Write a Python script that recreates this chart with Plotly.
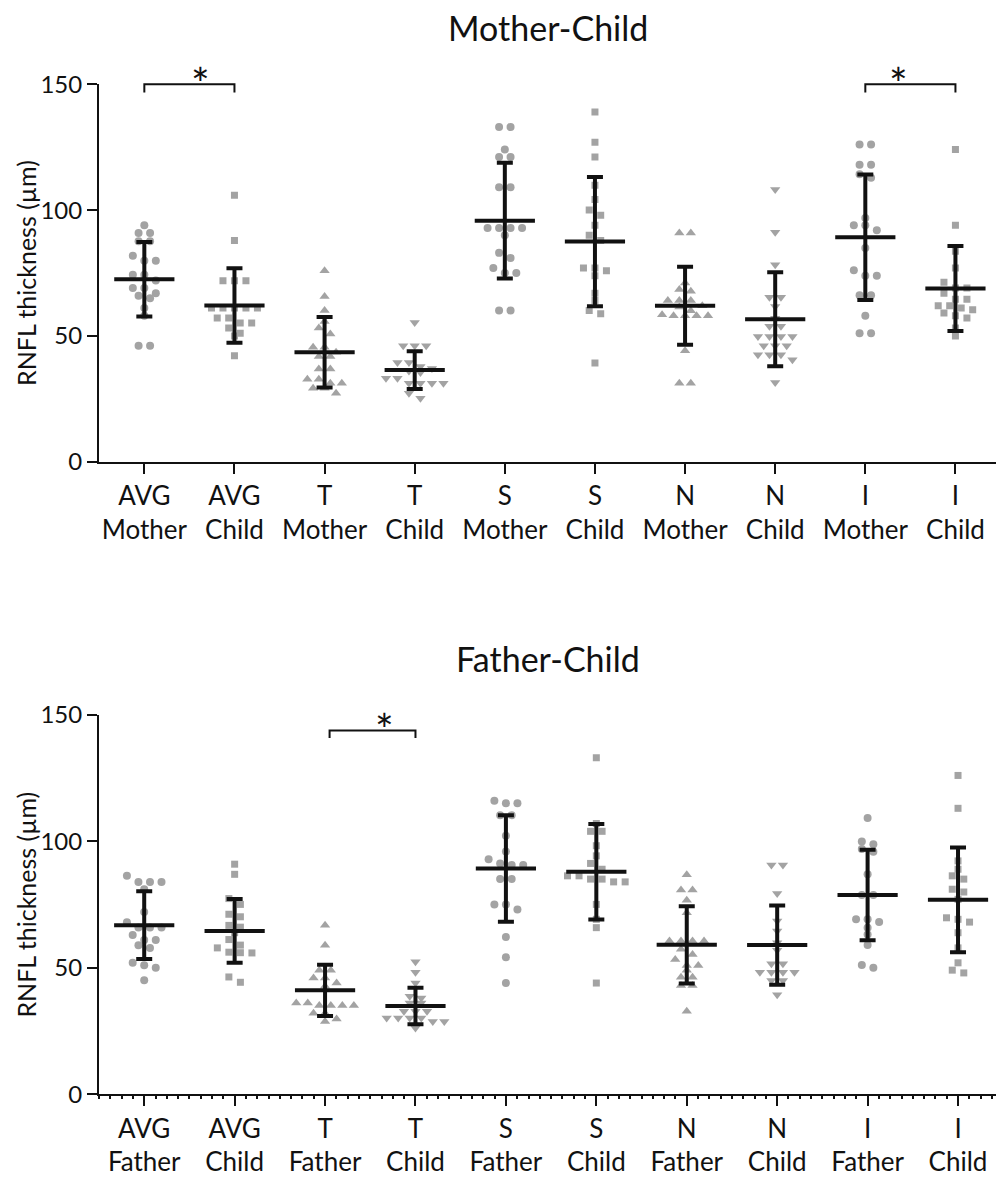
import plotly.graph_objects as go
import numpy as np

# ---------------- data ----------------
labels_mc = ["AVG<br>Mother", "AVG<br>Child", "T<br>Mother", "T<br>Child", "S<br>Mother",
             "S<br>Child", "N<br>Mother", "N<br>Child", "I<br>Mother", "I<br>Child"]
labels_fc = ["AVG<br>Father", "AVG<br>Child", "T<br>Father", "T<br>Child", "S<br>Father",
             "S<br>Child", "N<br>Father", "N<br>Child", "I<br>Father", "I<br>Child"]

# Mother-Child panel
avg_mother = [94.0, 90.9, 90.9, 87.6, 87.6, 81.9, 79.9, 79.9, 74.3, 74.3, 72.0, 69.0, 69.0, 67.0, 66.0, 65.0, 61.1, 58.0, 46.1, 46.1]
avg_child_m = [105.9, 87.9, 71.9, 71.9, 71.9, 61.1, 61.1, 61.1, 61.1, 61.1, 57.1, 57.1, 55.1, 55.1, 53.1, 51.1, 50.0, 42.1]
t_mother = [75.9, 65.7, 60.1, 55.7, 53.1, 50.8, 45.5, 45.5, 43.5, 41.8, 41.8, 36.8, 36.8, 32.8, 32.8, 31.2, 31.2, 29.2, 29.2, 27.2]
t_child_m = [55.3, 46.1, 46.1, 46.1, 39.4, 39.4, 37.8, 37.0, 36.0, 35.5, 33.2, 33.2, 31.2, 31.2, 31.2, 31.2, 27.2, 25.2]
s_mother = [133.0, 133.0, 124.1, 121.1, 121.1, 109.1, 109.1, 92.9, 92.9, 92.9, 92.9, 90.0, 83.0, 81.0, 77.0, 75.0, 75.0, 60.1, 60.1]
s_child_m = [139.0, 127.0, 121.1, 109.9, 104.2, 100.0, 98.0, 94.0, 90.0, 87.9, 77.0, 77.0, 75.9, 73.9, 67.0, 64.1, 60.1, 58.8, 39.2]
n_mother = [90.9, 90.9, 71.0, 68.4, 67.7, 64.1, 64.1, 64.1, 62.0, 61.5, 60.0, 58.4, 58.0, 58.0, 58.0, 58.0, 44.1, 31.2, 31.2]
n_child_m = [108.2, 91.2, 78.3, 65.4, 65.4, 61.7, 57.0, 53.8, 53.8, 49.8, 49.8, 49.8, 49.8, 46.1, 46.1, 46.1, 42.5, 42.5, 42.5, 40.5, 31.5]
i_mother = [126.1, 126.1, 118.0, 118.0, 114.2, 112.9, 96.9, 94.0, 94.0, 92.0, 84.9, 76.1, 73.9, 73.9, 66.2, 66.2, 58.0, 51.1, 51.1]
i_child_m = [124.1, 94.0, 83.6, 77.0, 71.3, 69.0, 69.0, 67.0, 64.6, 64.6, 62.0, 62.0, 61.1, 60.4, 59.1, 58.0, 57.1, 53.1, 50.0]
means_mc = [72.5, 62.1, 43.5, 36.4, 95.8, 87.5, 62.0, 56.6, 89.2, 68.8]
sds_mc = [14.8, 14.8, 14.0, 7.5, 23.0, 25.7, 15.5, 18.7, 24.9, 16.9]

# Father-Child panel
avg_father = [86.4, 84.0, 84.0, 84.0, 81.1, 72.1, 68.0, 66.0, 66.0, 66.0, 63.0, 61.0, 61.0, 58.9, 57.9, 52.0, 51.0, 50.0, 45.1]
avg_child_f = [91.0, 87.0, 77.4, 75.1, 71.2, 70.2, 66.8, 66.1, 63.9, 61.2, 59.0, 57.9, 56.2, 56.0, 55.9, 46.4, 44.3]
t_father = [66.9, 58.9, 49.1, 49.1, 46.0, 46.0, 44.0, 42.7, 36.1, 36.1, 35.1, 35.1, 35.1, 35.1, 32.1, 32.1, 29.8, 28.8]
t_child_f = [52.4, 48.3, 44.0, 38.8, 38.1, 36.1, 36.1, 32.8, 32.8, 32.8, 30.2, 30.2, 30.2, 30.2, 28.8, 28.8, 26.2]
s_father = [116.1, 115.1, 115.1, 110.4, 110.4, 102.2, 96.0, 93.0, 91.3, 90.7, 90.7, 85.1, 85.1, 75.1, 75.1, 73.1, 62.2, 54.2, 44.0]
s_child_f = [133.1, 107.1, 104.0, 104.0, 98.3, 94.3, 91.3, 89.0, 86.4, 86.4, 85.1, 85.1, 84.0, 84.0, 75.1, 69.2, 65.9, 44.0]
n_father = [86.8, 80.8, 80.8, 76.7, 71.8, 60.6, 60.6, 60.6, 60.6, 57.4, 55.3, 53.3, 50.9, 50.9, 49.1, 46.3, 46.3, 43.0, 43.0, 32.8]
n_child_f = [90.7, 90.7, 79.4, 68.5, 64.6, 59.9, 57.0, 51.6, 51.6, 48.3, 48.3, 48.3, 48.3, 45.0, 45.0, 39.4]
i_father = [109.3, 100.0, 98.9, 97.0, 95.9, 87.0, 78.8, 78.8, 69.2, 69.2, 68.1, 65.9, 63.2, 59.0, 51.1, 50.0]
i_child_f = [126.1, 113.1, 92.3, 89.0, 86.4, 85.1, 81.1, 80.0, 77.1, 69.8, 69.2, 68.1, 63.9, 57.9, 52.0, 49.1, 48.0]
means_fc = [66.9, 64.6, 41.1, 34.9, 89.3, 88.0, 59.1, 59.0, 78.8, 76.9]
sds_fc = [13.4, 12.6, 10.1, 7.2, 21.1, 18.9, 15.3, 15.7, 17.9, 20.7]

groups_mc = [avg_mother, avg_child_m, t_mother, t_child_m, s_mother, s_child_m, n_mother, n_child_m, i_mother, i_child_m]
groups_fc = [avg_father, avg_child_f, t_father, t_child_f, s_father, s_child_f, n_father, n_child_f, i_father, i_child_f]
symbols = ["circle", "square", "triangle-up", "triangle-down", "circle", "square",
           "triangle-up", "triangle-down", "circle", "square"]
marker_sizes = {"circle": 8, "square": 7, "triangle-up": 9, "triangle-down": 9}

# ---------------- styling / layout ----------------
FONT = "Lato"
GREY = "#a3a3a3"
BLACK = "#111111"
W, H = 996, 1178
ML = 99
PXX = 90.2          # px per category
PXY = 2.52          # px per unit on y
XR_TOP = [-0.503, 9.45]
XR_BOT = [-0.5, 9.42]
YR = [0, 150]
DOM_TOP = [(H - 461.7) / H, (H - 84.3) / H]
DOM_BOT = [(H - 1094.3) / H, (H - 715.0) / H]


def swarm(vals, center):
    """Prism-like row layout: values close in y are spread symmetrically."""
    v = sorted(vals, reverse=True)
    xs, ys = [], []
    i = 0
    binw = 6.5 / PXY
    step = 11.5 / PXX
    while i < len(v):
        j = i
        while j < len(v) and v[i] - v[j] < binw:
            j += 1
        row = v[i:j]
        k = len(row)
        for m, val in enumerate(row):
            xs.append(center + (m - (k - 1) / 2) * step)
            ys.append(val)
        i = j
    return xs, ys


fig = go.Figure()


def add_panel(groups, means, sds, xa, ya):
    for idx, g in enumerate(groups):
        xs, ys = swarm(g, idx)
        sym = symbols[idx]
        fig.add_trace(go.Scatter(
            x=xs, y=ys, mode="markers", xaxis=xa, yaxis=ya, showlegend=False,
            marker=dict(symbol=sym, size=marker_sizes[sym], color=GREY, line=dict(width=0)),
            hoverinfo="y"))
    fig.add_trace(go.Scatter(
        x=list(range(len(means))), y=means, mode="markers", xaxis=xa, yaxis=ya, showlegend=False,
        marker=dict(symbol="line-ew", size=43, color=BLACK, line=dict(width=4, color=BLACK)),
        error_y=dict(type="data", array=sds, visible=True, thickness=4, width=8, color=BLACK),
        cliponaxis=False))


add_panel(groups_mc, means_mc, sds_mc, "x", "y")
add_panel(groups_fc, means_fc, sds_fc, "x2", "y2")

axis_common = dict(showgrid=False, zeroline=False, showline=True, linewidth=2, linecolor=BLACK,
                   ticks="outside", ticklen=10, tickwidth=2, tickcolor=BLACK,
                   tickfont=dict(family=FONT, size=26, color=BLACK))
ytick_font = dict(family=FONT, size=24, color=BLACK)

fig.update_layout(
    width=W, height=H, plot_bgcolor="white", paper_bgcolor="white",
    margin=dict(l=ML, r=0, t=0, b=0, autoexpand=False),
    xaxis=dict(axis_common, domain=[0, 1], range=XR_TOP, anchor="y",
               tickvals=list(range(10)), ticktext=labels_mc, automargin=False),
    yaxis=dict(axis_common, domain=DOM_TOP, range=YR, anchor="x", tickfont=ytick_font,
               tickvals=[0, 50, 100, 150], automargin=False),
    xaxis2=dict(axis_common, domain=[0, 1], range=XR_BOT, anchor="y2",
                tickvals=list(range(10)), ticktext=labels_fc, automargin=False,
                minor=dict(ticks="outside", ticklen=3, tickwidth=2, tickcolor=BLACK,
                           tickmode="linear", tick0=0, dtick=0.125)),
    yaxis2=dict(axis_common, domain=DOM_BOT, range=YR, anchor="x2", tickfont=ytick_font,
                tickvals=[0, 50, 100, 150], automargin=False),
)


def xd(v, rng):
    return (v - rng[0]) / (rng[1] - rng[0])


def yd(v):
    return (v - YR[0]) / (YR[1] - YR[0])


def bracket(x0, x1, ytop, yleg, ystar, xref, yref, rng):
    fig.add_shape(type="path", xref=xref, yref=yref,
                  path=f"M {xd(x0, rng)},{yd(yleg)} L {xd(x0, rng)},{yd(ytop)} "
                       f"L {xd(x1, rng)},{yd(ytop)} L {xd(x1, rng)},{yd(yleg)}",
                  line=dict(color=BLACK, width=2))
    fig.add_annotation(x=xd((x0 + x1) / 2, rng), y=yd(ystar), xref=xref, yref=yref,
                       text="*", showarrow=False, yanchor="middle",
                       font=dict(family=FONT, size=44, color=BLACK))


bracket(0, 1, 150.0, 146.7, 150.6, "x domain", "y domain", XR_TOP)
bracket(8, 9, 150.0, 146.7, 150.6, "x domain", "y domain", XR_TOP)
bracket(2.05, 3.0, 143.9, 140.9, 144.5, "x2 domain", "y2 domain", XR_BOT)

for txt, yc in [("Mother-Child", 27), ("Father-Child", 658)]:
    fig.add_annotation(x=0.5, y=(H - yc) / H, xref="paper", yref="paper", text=txt,
                       showarrow=False, xanchor="center", yanchor="middle",
                       font=dict(family=FONT, size=34, color=BLACK))

for yc in [273, 904.6]:
    fig.add_annotation(x=(26 - ML) / (W - ML), y=(H - yc) / H, xref="paper", yref="paper",
                       text="RNFL thickness (µm)", textangle=-90, showarrow=False,
                       xanchor="center", yanchor="middle",
                       font=dict(family=FONT, size=25, color=BLACK))

fig.write_html("out.html", config={"displayModeBar": False},
               post_script="document.body.style.margin='0px';document.body.style.overflow='hidden';")
